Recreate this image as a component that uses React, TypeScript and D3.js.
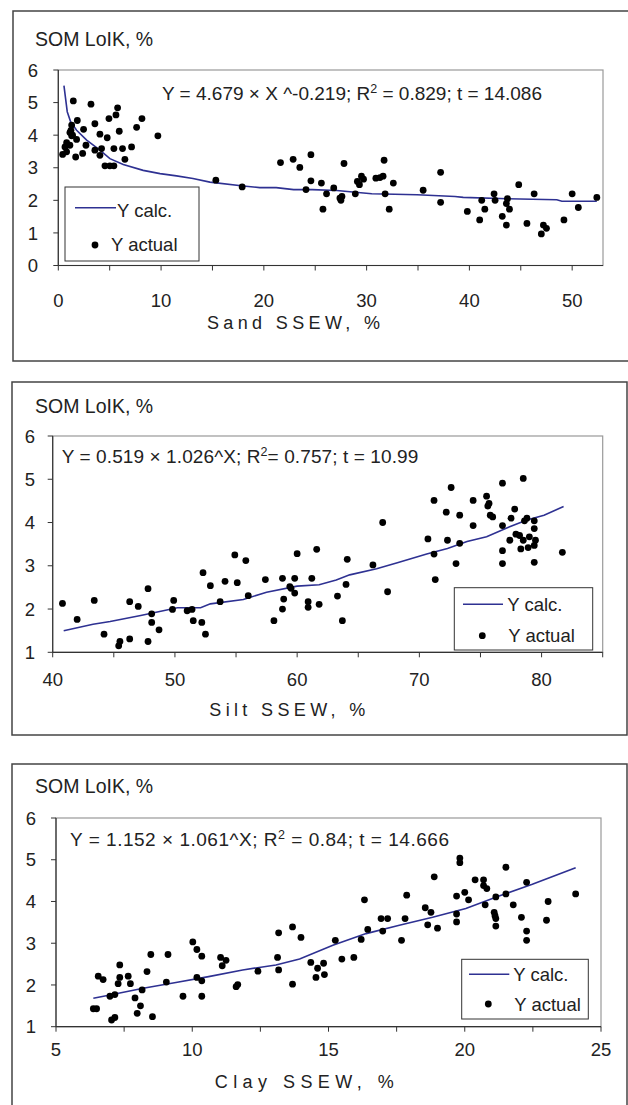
import React from 'react';
import * as d3 from 'd3';

// ---- data ----
const sandX = [1.46, 3.18, 5.77, 5.61, 4.93, 1.85, 8.14, 7.62, 3.56, 1.3, 1.23, 1.13, 5.93, 2.46, 1.3, 9.69, 4.05, 4.76, 1.78, 1.39, 0.81, 0.65, 1.13, 2.69, 7.13, 6.25, 5.41, 4.21, 3.56, 0.81, 0.42, 2.37, 4.05, 1.69, 6.48, 4.54, 5.02, 5.41,
  15.33, 17.89, 21.62, 22.85, 23.5, 24.58, 24.58, 24.1, 25.6, 25.75, 26.1, 26.8, 27.8, 27.4, 27.5, 27.6, 28.9, 29.1, 29.3, 29.5, 29.7, 30.9, 31.3, 31.6, 31.7, 31.8, 32.2, 32.6, 35.5, 37.2, 37.2, 39.8, 41.0, 41.2, 41.5, 42.4, 42.5, 43.2, 43.6, 43.7, 43.6, 43.9, 44.8, 45.6, 46.3, 47.0, 47.2, 47.5, 49.2, 50.0, 50.6, 52.4];
const sandY = [5.05, 4.95, 4.84, 4.62, 4.51, 4.45, 4.51, 4.24, 4.35, 4.31, 4.15, 4.08, 4.12, 4.18, 3.98, 3.98, 4.03, 3.92, 3.87, 4.0, 3.77, 3.64, 3.69, 3.69, 3.64, 3.59, 3.59, 3.59, 3.54, 3.49, 3.41, 3.44, 3.38, 3.33, 3.26, 3.06, 3.06, 3.06,
  2.62, 2.41, 3.16, 3.26, 3.01, 3.4, 2.6, 2.33, 2.53, 1.73, 2.2, 2.38, 3.13, 2.07, 2.0, 2.12, 2.2, 2.58, 2.48, 2.74, 2.65, 2.68, 2.7, 2.74, 3.23, 2.2, 1.73, 2.53, 2.31, 2.86, 1.94, 1.66, 1.4, 2.0, 1.73, 2.2, 2.0, 1.51, 1.24, 2.05, 1.9, 1.73, 2.48, 1.29, 2.2, 0.97, 1.24, 1.14, 1.4, 2.2, 1.78, 2.09];
const sandCalcX = [0.55, 0.87, 1.2, 1.78, 2.76, 4.05, 5.02, 6.32, 8.26, 9.9, 11.5, 13.1, 14.75, 18, 19.6, 21.2, 22.9, 24.7, 27.1, 28.9, 30.5, 34.9, 38.6, 39.4, 43.7, 48.5, 49, 52.4];
const sandCalcY = [5.52, 4.72, 4.41, 4.15, 3.85, 3.54, 3.28, 3.1, 2.92, 2.82, 2.75, 2.67, 2.56, 2.44, 2.39, 2.39, 2.33, 2.33, 2.3, 2.25, 2.2, 2.17, 2.12, 2.09, 2.05, 2.02, 1.97, 1.97];

const siltX = [40.8, 42.0, 43.4, 44.2, 45.4, 45.5, 46.3, 46.3, 47.0, 47.8, 47.8, 48.1, 48.1, 48.7, 49.8, 49.9, 51.0, 51.4, 51.5, 52.2, 52.3, 52.5, 52.9, 53.7, 54.1, 54.9, 55.1, 55.8, 56.0, 57.4, 58.1, 58.8, 58.8, 58.9, 59.4, 59.5, 59.8, 59.8, 60.0, 60.9, 60.9, 61.2, 61.6, 61.8,
  63.3, 63.7, 64.0, 64.1, 66.2, 67.0, 67.4, 70.7, 71.2, 71.2, 71.3, 72.2, 72.3, 72.6, 73.0, 73.3, 73.3, 74.4, 74.4, 75.5, 75.6, 75.7, 75.8, 76.0, 76.8, 76.8, 76.8, 76.8, 77.4, 77.5, 77.8, 77.9, 78.2, 78.3, 78.5, 78.5, 78.6, 78.8, 78.9, 79.0, 79.4, 79.4, 79.4, 79.4, 79.5, 81.7];
const siltY = [2.13, 1.76, 2.2, 1.42, 1.15, 1.25, 2.17, 1.31, 2.06, 2.47, 1.25, 1.89, 1.69, 1.52, 1.99, 2.2, 1.96, 1.99, 1.73, 1.69, 2.84, 1.42, 2.54, 2.17, 2.64, 3.25, 2.61, 3.12, 2.31, 2.68, 1.73, 2.71, 2.0, 2.23, 2.52, 2.48, 2.71, 2.37, 3.28, 2.17, 2.04, 2.71, 3.38, 2.11,
  2.3, 1.73, 2.57, 3.15, 3.02, 4.0, 2.4, 3.62, 4.51, 3.27, 2.68, 4.24, 3.59, 4.81, 3.05, 4.17, 3.52, 4.51, 3.93, 4.61, 4.38, 4.44, 4.17, 4.13, 4.91, 3.93, 3.35, 3.05, 3.59, 4.1, 4.31, 3.73, 3.7, 3.39, 5.02, 3.59, 4.04, 4.1, 3.42, 3.67, 4.04, 3.86, 3.47, 3.08, 3.59, 3.31];
const siltCalcX = [40.9, 43.3, 44.7, 47.2, 50.2, 51.0, 52.1, 52.9, 55.6, 57.5, 60.0, 61.8, 63.2, 64.3, 66.5, 68.2, 70.6, 72.3, 73.9, 75.5, 77.2, 78.8, 80.2, 81.8];
const siltCalcY = [1.5, 1.65, 1.71, 1.85, 2.03, 2.03, 2.03, 2.12, 2.22, 2.39, 2.53, 2.56, 2.67, 2.79, 2.93, 3.07, 3.27, 3.4, 3.56, 3.67, 3.88, 4.06, 4.17, 4.37];

const clayX = [6.37, 6.49, 6.55, 6.73, 6.98, 7.04, 7.16, 7.16, 7.28, 7.34, 7.34, 7.65, 7.73, 7.9, 7.98, 8.1, 8.16, 8.34, 8.48, 8.54, 9.05, 9.11, 9.66, 10.02, 10.17, 10.17, 10.35, 10.35, 10.35, 11.04, 11.1, 11.24, 11.61, 11.67, 12.41, 13.13, 13.17, 13.17, 13.68, 13.68, 13.99, 14.35, 14.54, 14.6,
  14.82, 14.85, 15.25, 15.49, 15.93, 16.2, 16.32, 16.44, 16.93, 16.99, 17.17, 17.68, 17.81, 17.87, 18.55, 18.64, 18.76, 18.88, 19.0, 19.7, 19.7, 19.7, 19.82, 19.82, 20.0, 20.14, 20.38, 20.69, 20.69, 20.81, 20.75, 21.08, 21.11, 21.14, 21.14, 21.14, 21.51, 21.51, 21.78, 22.08, 22.27, 22.27, 22.27, 23.0, 23.06, 24.07];
const clayY = [1.43, 1.43, 2.21, 2.13, 1.73, 1.16, 1.22, 1.77, 2.03, 2.48, 2.18, 2.21, 2.03, 1.69, 1.32, 1.5, 1.88, 2.32, 2.73, 1.24, 2.07, 2.73, 1.73, 3.03, 2.85, 2.18, 2.69, 2.1, 1.73, 2.66, 2.46, 2.59, 1.96, 2.01, 2.33, 2.66, 3.25, 2.36, 3.39, 2.02, 3.14, 2.54, 2.18, 2.4,
  2.52, 2.25, 3.07, 2.62, 2.66, 3.09, 4.04, 3.33, 3.59, 3.29, 3.59, 3.07, 3.59, 4.15, 3.85, 3.44, 3.74, 4.59, 3.36, 4.13, 3.7, 3.51, 5.04, 4.93, 4.22, 4.04, 4.52, 4.52, 4.38, 4.31, 3.92, 3.74, 3.66, 3.59, 3.41, 4.11, 4.82, 4.18, 3.92, 3.62, 4.46, 3.29, 3.07, 3.55, 4.0, 4.18];
const clayCalcX = [6.37, 6.98, 8.2, 9.4, 10.6, 11.85, 13.07, 13.94, 15.16, 16.38, 17.6, 18.82, 20.04, 21.26, 22.48, 24.07];
const clayCalcY = [1.68, 1.76, 1.92, 2.06, 2.2, 2.36, 2.48, 2.62, 2.95, 3.23, 3.43, 3.62, 3.83, 4.13, 4.41, 4.81];

const yTicks = [0, 1, 2, 3, 4, 5, 6];
const sandTicks = [0, 5, 10, 15, 20, 25, 30, 35, 40, 45, 50];
const sandLabels = [0, 10, 20, 30, 40, 50];
const siltTicks = [40, 45, 50, 55, 60, 65, 70, 75, 80, 85];
const siltLabels = [40, 50, 60, 70, 80];
const clayTicks = [5, 7.5, 10, 12.5, 15, 17.5, 20, 22.5, 25];
const clayLabels = [5, 10, 15, 20, 25];

const FONT = '"Liberation Sans", Arial, sans-serif';
const TXT = '#222';
const LINE = '#2e3192';

function Panel({ cfg }) {
  const x = d3.scaleLinear().domain(cfg.xDomain).range([cfg.left, cfg.right]);
  const y = d3.scaleLinear().domain(cfg.yDomain).range([cfg.bottom, cfg.top]);
  const line = d3.line().x(d => x(d[0])).y(d => y(d[1]));
  const calc = cfg.calcX.map((v, i) => [v, cfg.calcY[i]]);
  const yt = yTicks.filter(t => t >= cfg.yDomain[0] && t <= cfg.yDomain[1]);
  const lg = cfg.legend;
  return (
    <g fontFamily={FONT} fill={TXT}>
      <rect x={cfg.box[0]} y={cfg.box[1]} width={cfg.box[2]} height={cfg.box[3]} fill="none" stroke="#444" strokeWidth={1.5} />
      <text x={35} y={cfg.titleY} fontSize={19.5}>SOM LoIK, %</text>
      {/* plot frame */}
      <rect x={cfg.left} y={cfg.top} width={cfg.right - cfg.left} height={cfg.bottom - cfg.top} fill="none" stroke="#999" strokeWidth={1.2} />
      <line x1={cfg.left} x2={cfg.left} y1={cfg.top} y2={cfg.bottom} stroke="#333" strokeWidth={1.2} />
      <line x1={cfg.left} x2={cfg.right} y1={cfg.bottom} y2={cfg.bottom} stroke="#333" strokeWidth={1.2} />
      {yt.map(t => (
        <g key={'y' + t}>
          <line x1={cfg.left - 5} x2={cfg.left} y1={y(t)} y2={y(t)} stroke="#333" />
          <text x={cfg.yLabelX} y={y(t)} dy="0.36em" textAnchor="end" fontSize={18.5}>{t}</text>
        </g>
      ))}
      {cfg.xTicks.map(t => (
        <line key={'x' + t} x1={x(t)} x2={x(t)} y1={cfg.bottom} y2={cfg.bottom + 5} stroke="#333" />
      ))}
      {cfg.xLabels.map(t => (
        <text key={'xl' + t} x={x(t)} y={cfg.tickLabelY} textAnchor="middle" fontSize={18.5}>{t}</text>
      ))}
      <text x={cfg.xTitle[0]} y={cfg.xTitle[1]} fontSize={18} textLength={cfg.xTitle[2]} lengthAdjust="spacing">{cfg.xTitleText}</text>
      {/* equation */}
      <text x={cfg.eq[0]} y={cfg.eq[1]} fontSize={19} textLength={cfg.eq[2]} lengthAdjust="spacing">
        {cfg.eqA}
        <tspan dy={-7} fontSize={12.5}>2</tspan>
        <tspan dy={7}>{cfg.eqB}</tspan>
      </text>
      {/* fitted line */}
      <path d={line(calc)} fill="none" stroke={LINE} strokeWidth={1.6} />
      {/* points */}
      {cfg.px.map((v, i) => (
        <circle key={i} cx={x(v)} cy={y(cfg.py[i])} r={3.4} fill="#000" />
      ))}
      {/* legend */}
      <rect x={lg.box[0]} y={lg.box[1]} width={lg.box[2] - lg.box[0]} height={lg.box[3] - lg.box[1]} fill="#fff" stroke="#333" strokeWidth={1} />
      <line x1={lg.line[0]} x2={lg.line[1]} y1={lg.line[2]} y2={lg.line[2]} stroke={LINE} strokeWidth={1.6} />
      <text x={lg.t1[0]} y={lg.t1[1]} fontSize={18.5}>Y calc.</text>
      <circle cx={lg.dot[0]} cy={lg.dot[1]} r={3.4} fill="#000" />
      <text x={lg.t2[0]} y={lg.t2[1]} fontSize={18.5}>Y actual</text>
    </g>
  );
}

const panels = [
  {
    box: [13, 11, 700, 350], titleY: 46,
    left: 58.3, right: 603, top: 70, bottom: 265.5,
    xDomain: [0, 53], yDomain: [0, 6],
    xTicks: sandTicks, xLabels: sandLabels, yLabelX: 38, tickLabelY: 306.7,
    xTitle: [207, 329.3, 173], xTitleText: 'Sand SSEW, %',
    eq: [162, 100, 380], eqA: 'Y = 4.679 × X ^-0.219; R', eqB: ' = 0.829; t = 14.086',
    px: sandX, py: sandY, calcX: sandCalcX, calcY: sandCalcY,
    legend: { box: [65, 187, 199, 261], line: [75, 116, 207.7], t1: [117, 216.5], dot: [95, 245], t2: [111, 250.5] },
  },
  {
    box: [12, 382, 615, 353], titleY: 413.3,
    left: 52.7, right: 602.7, top: 436, bottom: 652.3,
    xDomain: [40, 85], yDomain: [1, 6],
    xTicks: siltTicks, xLabels: siltLabels, yLabelX: 35, tickLabelY: 686,
    xTitle: [209.3, 716, 156], xTitleText: 'Silt SSEW, %',
    eq: [61.7, 463.3, 356.6], eqA: 'Y = 0.519 × 1.026^X; R', eqB: '= 0.757; t = 10.99',
    px: siltX, py: siltY, calcX: siltCalcX, calcY: siltCalcY,
    legend: { box: [454.3, 587.7, 592.7, 650], line: [463, 503, 604.3], t1: [507.3, 610.5], dot: [482.3, 635.7], t2: [508.3, 642] },
  },
  {
    box: [12, 764, 615, 400], titleY: 792.7,
    left: 56, right: 601, top: 818, bottom: 1026.7,
    xDomain: [5, 25], yDomain: [1, 6],
    xTicks: clayTicks, xLabels: clayLabels, yLabelX: 36, tickLabelY: 1055.5,
    xTitle: [214.7, 1088, 179], xTitleText: 'Clay SSEW, %',
    eq: [70, 846, 379], eqA: 'Y = 1.152 × 1.061^X; R', eqB: ' = 0.84; t = 14.666',
    px: clayX, py: clayY, calcX: clayCalcX, calcY: clayCalcY,
    legend: { box: [461.7, 959.3, 588.3, 1019], line: [469, 509.3, 974.3], t1: [513.3, 980.5], dot: [488.3, 1004], t2: [514.3, 1010.5] },
  },
];

export default function App() {
  return (
    <svg width={628} height={1105} style={{ position: 'absolute', left: 0, top: 0, background: '#fff' }}>
      <rect width={628} height={1105} fill="#fff" />
      {panels.map((p, i) => <Panel key={i} cfg={p} />)}
    </svg>
  );
}
